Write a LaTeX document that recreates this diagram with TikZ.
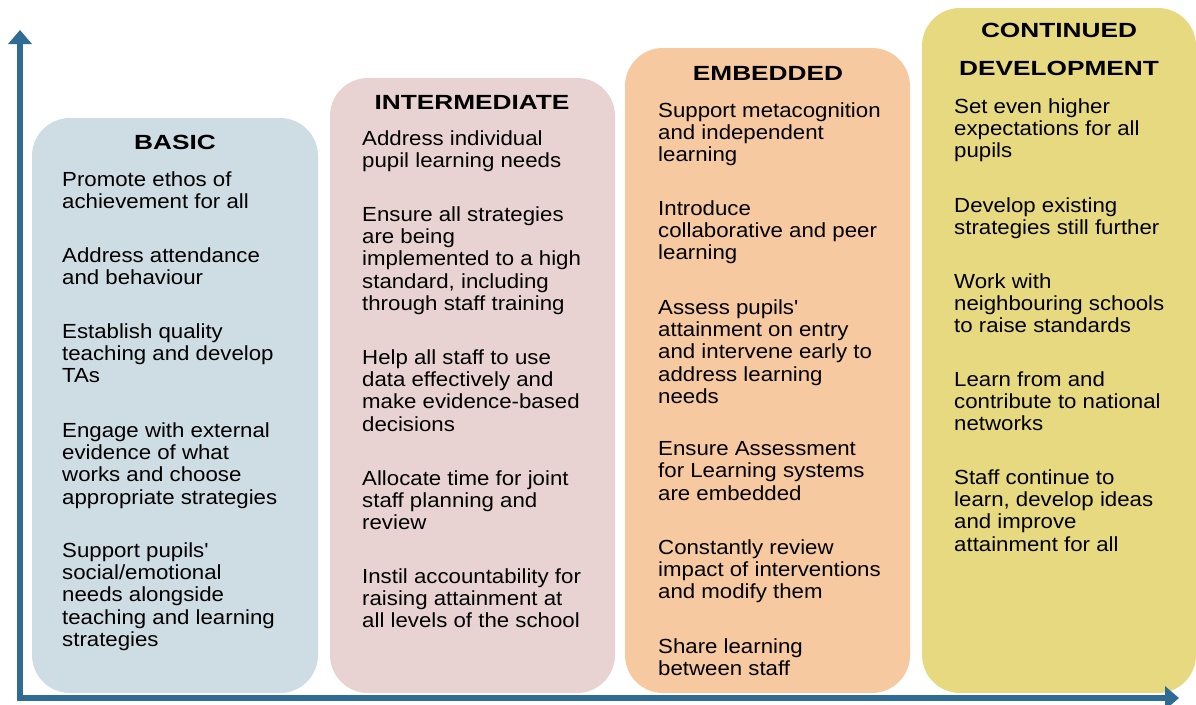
\documentclass[tikz,border=0pt]{standalone}
\usepackage{fontspec}
\setmainfont[FakeStretch=1.09]{Liberation Sans}
\newfontfamily\headfont[FakeStretch=1.28]{Liberation Sans}
\usetikzlibrary{arrows.meta}
\definecolor{basicfill}{HTML}{CEDCE3}
\definecolor{interfill}{HTML}{E9D3D2}
\definecolor{embedfill}{HTML}{F7C9A1}
\definecolor{contfill}{HTML}{E6D980}
\definecolor{axisblue}{HTML}{2F6C94}
\begin{document}
\begin{tikzpicture}[x=1pt,y=-1pt,
  stage/.style={rounded corners=38pt},
  head/.style={anchor=north,yshift=15.4pt,align=center,inner sep=0pt,
    execute at begin node=\strut,font=\headfont\bfseries\fontsize{20.5}{22}\selectfont},
  item/.style={anchor=north west,yshift=15.54pt,align=left,inner sep=0pt,
    execute at begin node=\strut,font=\fontsize{20.4}{22.2}\selectfont},
  axis/.style={line width=5.5pt,draw=axisblue,-{Triangle[width=23pt,length=14pt]}}]
\useasboundingbox (0,0) rectangle (1196,704);
% the four stages
\fill[stage,basicfill] (32,118) rectangle (318,693);
\fill[stage,interfill] (330,78) rectangle (615,693);
\fill[stage,embedfill] (625,48) rectangle (910,693);
\fill[stage,contfill] (922,8) rectangle (1196,693);
% axes
\coordinate (origin) at (20,698);
\coordinate (ytip) at (20,30);
\coordinate (xtip) at (1179,698);
\draw[axis] ([yshift=-2.75pt]origin) -- (ytip);
\draw[axis] ([xshift=-2.75pt]origin) -- (xtip);
% basic
\node[head] (basic) at (175,149) {BASIC};
\node[item] (b1) at (62,187) {Promote ethos of\\achievement for all};
\node[item] (b2) at (62,263) {Address attendance\\and behaviour};
\node[item] (b3) at (62,339) {Establish quality\\teaching and develop\\TAs};
\node[item] (b4) at (62,438) {Engage with external\\evidence of what\\works and choose\\appropriate strategies};
\node[item] (b5) at (62,558) {Support pupils\textquotesingle\\social/emotional\\needs alongside\\teaching and learning\\strategies};
% intermediate
\node[head] (inter) at (472,109) {INTERMEDIATE};
\node[item] (i1) at (362,146) {Address individual\\pupil learning needs};
\node[item] (i2) at (362,222) {Ensure all strategies\\are being\\implemented to a high\\standard, including\\through staff training};
\node[item] (i3) at (362,365) {Help all staff to use\\data effectively and\\make evidence-based\\decisions};
\node[item] (i4) at (362,486) {Allocate time for joint\\staff planning and\\review};
\node[item] (i5) at (362,584) {Instil accountability for\\raising attainment at\\all levels of the school};
% embedded
\node[head] (embed) at (768,80) {EMBEDDED};
\node[item] (e1) at (658,118) {Support metacognition\\and independent\\learning};
\node[item] (e2) at (658,216) {Introduce\\collaborative and peer\\learning};
\node[item] (e3) at (658,315) {Assess pupils\textquotesingle\\attainment on entry\\and intervene early to\\address learning\\needs};
\node[item] (e4) at (658,457) {Ensure Assessment\\for Learning systems\\are embedded};
\node[item] (e5) at (658,555) {Constantly review\\impact of interventions\\and modify them};
\node[item] (e6) at (658,654) {Share learning\\between staff};
% continued development
\node[head] (cont) at (1059,38) {CONTINUED\\[16pt]DEVELOPMENT};
\node[item] (c1) at (954,114) {Set even higher\\expectations for all\\pupils};
\node[item] (c2) at (954,213) {Develop existing\\strategies still further};
\node[item] (c3) at (954,289) {Work with\\neighbouring schools\\to raise standards};
\node[item] (c4) at (954,387) {Learn from and\\contribute to national\\networks};
\node[item] (c5) at (954,485) {Staff continue to\\learn, develop ideas\\and improve\\attainment for all};
\end{tikzpicture}
\end{document}
